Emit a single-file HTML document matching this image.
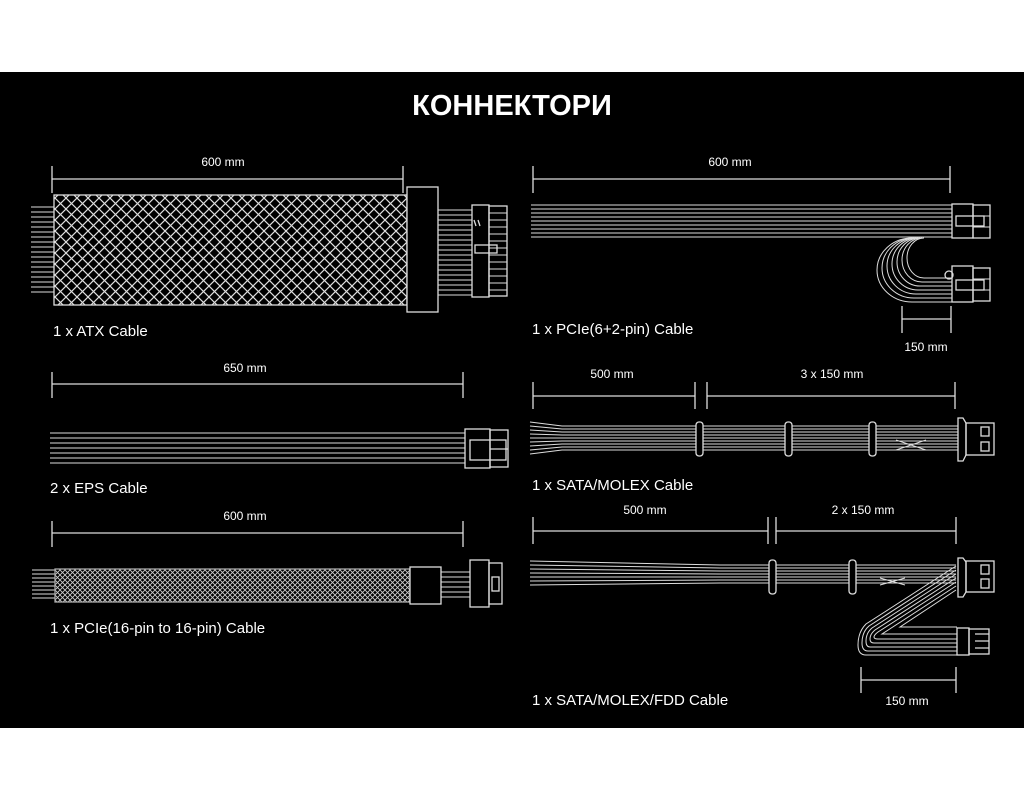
<!DOCTYPE html>
<html><head><meta charset="utf-8"><style>
html,body{margin:0;padding:0;background:#fff;}
svg{display:block}
text{font-family:"Liberation Sans","DejaVu Sans",sans-serif;fill:#fff}
</style></head><body>
<svg width="1024" height="800" viewBox="0 0 1024 800" xmlns="http://www.w3.org/2000/svg">
<defs>
<pattern id="mesh" width="11" height="11" patternUnits="userSpaceOnUse">
<path d="M0 0L11 11M11 0L0 11" stroke="#ddd" stroke-width="1.2"/>
</pattern>
<pattern id="mesh2" width="5" height="5" patternUnits="userSpaceOnUse">
<path d="M0 0L5 5M5 0L0 5" stroke="#ccc" stroke-width="0.9"/>
</pattern>
</defs>
<rect x="0" y="0" width="1024" height="800" fill="#fff"/>
<rect x="0" y="72" width="1024" height="656" fill="#000"/>
<text x="512" y="115" text-anchor="middle" font-size="29" font-weight="bold">КОННЕКТОРИ</text>

<g stroke="#ddd" stroke-width="1.3" fill="none">
<!-- ATX -->
<path d="M52 166V193M403 166V193M52 179H403"/>
<g stroke-width="1">
<path d="M31 207H54M31 212H54M31 217H54M31 222H54M31 227H54M31 232H54M31 237H54M31 242H54M31 247H54M31 252H54M31 257H54M31 262H54M31 267H54M31 272H54M31 277H54M31 282H54M31 287H54M31 292H54"/>
<path d="M438 210H472M438 215H472M438 220H472M438 225H472M438 230H472M438 235H472M438 240H472M438 245H472M438 250H472M438 255H472M438 260H472M438 265H472M438 270H472M438 275H472M438 280H472M438 285H472M438 290H472M438 295H472"/>
</g>
<rect x="54" y="195" width="353" height="110" fill="url(#mesh)"/>
<rect x="407" y="187" width="31" height="125" fill="#000"/>
<rect x="472" y="205" width="17" height="92"/>
<rect x="489" y="206" width="18" height="90"/>
<path d="M489 213H507M489 220H507M489 227H507M489 234H507M489 241H507M489 248H507M489 255H507M489 262H507M489 269H507M489 276H507M489 283H507M489 290H507" stroke-width="0.9"/>
<rect x="475" y="245" width="22" height="8"/>
<path d="M474 220L476 226M478 220L480 226"/>

<!-- PCIe 6+2 -->
<path d="M533 166V193M950 166V193M533 179H950"/>
<path d="M531 205H952M531 209H952M531 213H952M531 217H952M531 221H952M531 225H952M531 229H952M531 233H952M531 237H952" stroke-width="1"/>
<rect x="952" y="204" width="21" height="34" fill="#000"/>
<rect x="973" y="205" width="17" height="33"/>
<path d="M973 216H990M973 227H990" stroke-width="0.9"/>
<rect x="956" y="216" width="28" height="10"/>
<g stroke-width="1">
<path d="M912 238A35 32 0 0 0 912 302H952"/>
<path d="M914 238A32 30 0 0 0 914 298H952"/>
<path d="M916 238A29 28 0 0 0 916 294H952"/>
<path d="M918 238A26 26 0 0 0 918 290H952"/>
<path d="M920 238A23 24 0 0 0 920 286H952"/>
<path d="M922 238A20 22 0 0 0 922 282H952"/>
<path d="M924 238A17 20 0 0 0 924 278H952"/>
</g>
<rect x="952" y="266" width="21" height="36" fill="#000"/>
<rect x="973" y="268" width="17" height="33"/>
<path d="M973 279H990M973 290H990" stroke-width="0.9"/>
<rect x="956" y="280" width="28" height="10"/>
<circle cx="949" cy="275" r="4"/>
<path d="M902 306V333M951 306V333M902 319H951"/>

<!-- EPS -->
<path d="M52 372V398M463 372V398M52 384H463"/>
<path d="M50 433H465M50 438H465M50 443H465M50 448H465M50 453H465M50 458H465M50 463H465" stroke-width="1"/>
<rect x="465" y="429" width="25" height="39" fill="#000"/>
<rect x="470" y="440" width="36" height="20"/>
<rect x="490" y="430" width="18" height="37"/>
<path d="M490 449H508"/>

<!-- PCIe 16 -->
<path d="M52 521V547M463 521V547M52 533H463"/>
<path d="M32 570H55M32 574H55M32 578H55M32 582H55M32 586H55M32 590H55M32 594H55M32 598H55" stroke-width="0.9"/>
<rect x="55" y="569" width="355" height="33" fill="url(#mesh2)" stroke="#aaa"/>
<rect x="410" y="567" width="31" height="37" fill="#000"/>
<path d="M441 572H470M441 577H470M441 582H470M441 587H470M441 592H470M441 597H470" stroke-width="0.9"/>
<rect x="470" y="560" width="19" height="47" fill="#000"/>
<rect x="489" y="563" width="13" height="41"/>
<rect x="492" y="577" width="7" height="14"/>

<!-- SATA/MOLEX -->
<path d="M533 382V409M695 382V409M707 382V409M955 382V409M533 396H695M707 396H955"/>
<g stroke-width="1">
<path d="M530 422L562 426H958M530 426L562 429H958M530 430L562 432H958M530 434L562 435H958M530 438L562 438H958M530 442L562 441H958M530 446L562 444H958M530 450L562 447H958M530 454L562 450H958"/>
<path d="M896 440L926 450M896 450L926 440"/>
</g>
<rect x="696" y="422" width="7" height="34" rx="3" fill="#000"/>
<rect x="785" y="422" width="7" height="34" rx="3" fill="#000"/>
<rect x="869" y="422" width="7" height="34" rx="3" fill="#000"/>
<path d="M958 418H963L966 423V455L963 461H958Z" fill="#000"/>
<rect x="966" y="423" width="28" height="32"/>
<rect x="981" y="427" width="8" height="9"/><rect x="981" y="442" width="8" height="9"/>

<!-- SATA/MOLEX/FDD -->
<path d="M533 517V544M768 517V544M776 517V544M956 517V544M533 531H768M776 531H956"/>
<g stroke-width="1">
<path d="M530 561L720 565H956M530 565L720 568H956M530 569L720 571H956M530 573L720 574H956M530 577L720 577H956M530 581L720 580H956M530 585L720 583H956"/>
<path d="M880 578L905 585M880 585L905 578"/>
<path d="M956 566L866 624Q858 632 858 645Q858 655 866 655H957"/>
<path d="M956 570L869 626Q862 632 862 643Q862 651 868 651H957"/>
<path d="M956 574L872 628Q866 633 866 641Q866 647 870 647H957"/>
<path d="M956 578L875 630Q870 634 870 639Q870 643 874 643H957"/>
<path d="M956 582L878 632Q874 635 874 637Q874 639 878 639H957"/>
<path d="M956 586L882 634H957"/>
<path d="M956 590L900 627H957"/>
</g>
<rect x="769" y="560" width="7" height="34" rx="3" fill="#000"/>
<rect x="849" y="560" width="7" height="34" rx="3" fill="#000"/>
<path d="M958 558H963L966 562V592L963 597H958Z" fill="#000"/>
<rect x="966" y="561" width="28" height="31"/>
<rect x="981" y="565" width="8" height="9"/><rect x="981" y="579" width="8" height="9"/>
<rect x="957" y="628" width="12" height="27" fill="#000"/>
<rect x="969" y="629" width="20" height="25"/>
<path d="M975 634H989M975 641H989M975 648H989"/>
<path d="M861 667V693M956 667V693M861 680H956"/>
</g>

<g font-size="12">
<text x="223" y="166" text-anchor="middle">600 mm</text>
<text x="730" y="166" text-anchor="middle">600 mm</text>
<text x="926" y="351" text-anchor="middle">150 mm</text>
<text x="245" y="372" text-anchor="middle">650 mm</text>
<text x="612" y="378" text-anchor="middle">500 mm</text>
<text x="832" y="378" text-anchor="middle">3 x 150 mm</text>
<text x="245" y="520" text-anchor="middle">600 mm</text>
<text x="645" y="514" text-anchor="middle">500 mm</text>
<text x="863" y="514" text-anchor="middle">2 x 150 mm</text>
<text x="907" y="705" text-anchor="middle">150 mm</text>
</g>
<g font-size="15">
<text x="53" y="336">1 x ATX Cable</text>
<text x="532" y="334">1 x PCIe(6+2-pin) Cable</text>
<text x="50" y="493">2 x EPS Cable</text>
<text x="532" y="490">1 x SATA/MOLEX Cable</text>
<text x="50" y="633">1 x PCIe(16-pin to 16-pin) Cable</text>
<text x="532" y="705">1 x SATA/MOLEX/FDD Cable</text>
</g>
</svg>
</body></html>
